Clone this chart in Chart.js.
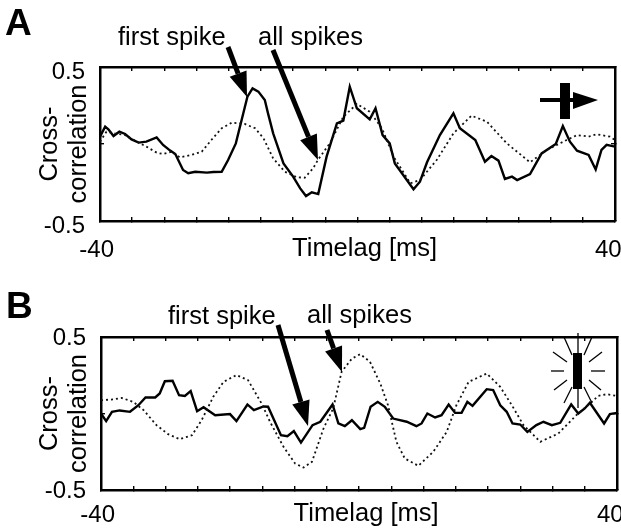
<!DOCTYPE html>
<html>
<head>
<meta charset="utf-8">
<script src="https://cdn.jsdelivr.net/npm/chart.js@4"></script>
<style>
    html, body { margin: 0; padding: 0; background: #fff; overflow: hidden; }
    canvas { position: absolute; left: 0; }
</style>
</head>
<body>
<canvas id="panelA" width="621" height="264" style="top:0"></canvas>
<canvas id="panelB" width="621" height="265" style="top:264px"></canvas>

<script>

// panel A, first spike (solid)
const lagFirstA = [-40, -39.2, -38.7, -37.9, -37, -36.1, -35.1, -34, -32.8, -31.2, -30.2, -29.1, -28.3, -27.1, -26.3, -25.2, -23.4, -22.4, -21.1, -20.1, -18.9, -18, -17.1, -16.3, -15.4, -14.4, -13.9, -13.1, -11.5, -10, -8.9, -8, -7.1, -6.1, -4.8, -3.2, -2.2, -1.2, -0.1, 1.9, 2.8, 3.9, 5, 5.8, 8.7, 9.7, 10.8, 12.8, 14.9, 15.9, 18.3, 19.8, 20.8, 21.9, 22.9, 24, 24.8, 26.8, 28.6, 30.8, 31.9, 33, 34.1, 35.9, 37, 37.9, 38.7, 40];
const firstA = [0.048, 0.113, 0.095, 0.052, 0.08, 0.065, 0.03, 0.009, 0.015, 0.043, -0.006, -0.043, -0.065, -0.169, -0.19, -0.18, -0.186, -0.182, -0.18, -0.104, 0.004, 0.156, 0.307, 0.361, 0.34, 0.286, 0.199, 0.069, -0.126, -0.212, -0.288, -0.338, -0.314, -0.325, -0.082, 0.134, 0.152, 0.372, 0.232, 0.16, 0.232, 0.058, 0.004, -0.126, -0.294, -0.245, -0.119, 0.058, 0.199, 0.102, 0.026, -0.115, -0.078, -0.108, -0.227, -0.212, -0.234, -0.195, -0.061, 0, 0.117, 0.015, -0.043, -0.071, -0.165, -0.039, -0.006, -0.017];

// panel A, all spikes (dotted)
const lagAllA = [-40, -39, -37.7, -36.1, -34.3, -32.8, -31.2, -30.2, -28.9, -27.6, -25.8, -24.2, -22.7, -21.1, -19.5, -17.5, -15.9, -14.6, -13.1, -11.3, -9.4, -8.2, -6.9, -6.1, -4.3, -2.2, -0.1, 1.9, 3.8, 5.6, 8.2, 9.7, 12.3, 14.9, 17.7, 20.1, 23.2, 26.8, 29.4, 32.5, 34.1, 35.9, 37.1, 39.2, 40];
const allA = [0.015, 0.08, 0.069, 0.058, 0.015, -0.017, -0.056, -0.065, -0.05, -0.087, -0.071, -0.05, 0.026, 0.102, 0.139, 0.13, 0.102, 0.037, -0.093, -0.18, -0.216, -0.219, -0.158, -0.1, 0.004, 0.177, 0.26, 0.21, 0.102, -0.082, -0.255, -0.234, -0.104, 0.069, 0.184, 0.145, 0.004, -0.119, -0.039, 0.026, 0.058, 0.048, 0.063, 0.048, 0.026];

// panel B, first spike (solid)
const lagFirstB = [-40, -39.2, -38.3, -37.1, -35.5, -34.2, -33.1, -31.6, -30.9, -30.1, -28.9, -27.9, -27, -26.1, -25.1, -24.1, -22.3, -20, -19, -17.3, -16.3, -14.8, -14.1, -12.1, -11.1, -10.1, -9, -7.2, -6, -4.1, -3.2, -2.2, -1.1, 0.2, 0.8, 1.8, 2.9, 4, 5.3, 7.4, 8.9, 9.7, 10.6, 11.8, 12.8, 13.9, 14.9, 15.9, 16.8, 17.6, 19.8, 20.8, 21.9, 22.9, 23.8, 25, 26.1, 27.5, 28.6, 29.9, 31.2, 32.9, 34, 35, 35.8, 38, 38.9, 40];
const firstB = [0, -0.05, 0.011, 0.02, 0.011, 0.054, 0.105, 0.105, 0.131, 0.211, 0.214, 0.12, 0.115, 0.146, 0.015, 0.041, -0.011, -0.004, -0.05, 0.059, 0.022, 0.046, 0.044, -0.142, -0.148, -0.115, -0.19, -0.076, -0.054, 0.059, -0.065, -0.083, -0.044, -0.102, -0.094, 0.044, 0.076, 0.044, -0.033, -0.054, -0.083, -0.065, 0, -0.026, -0.011, 0.059, 0.004, 0.004, 0.076, 0.05, 0.159, 0.153, 0.054, 0.011, -0.065, -0.072, -0.12, -0.076, -0.054, -0.076, -0.061, 0.059, 0, 0.033, 0.07, -0.065, -0.004, 0.004];

// panel B, all spikes (dotted)
const lagAllB = [-40, -38.1, -36.8, -35, -33.4, -31.4, -29.6, -27.8, -25.9, -24.4, -22.6, -21, -19, -17.2, -15.1, -13.8, -11.7, -9.9, -8.6, -7.3, -5.5, -4, -2.7, -1.1, 0.2, 1.7, 3.3, 4.5, 5.8, 7.1, 9.2, 11.5, 13.6, 15.1, 17, 19.8, 21.9, 23.7, 25.5, 28.1, 30.9, 33.7, 35.8, 37.1, 38.4, 40];
const allB = [0.087, 0.092, 0.102, 0.076, 0.022, -0.076, -0.135, -0.168, -0.142, -0.044, 0.109, 0.207, 0.251, 0.218, 0.065, -0.054, -0.218, -0.327, -0.353, -0.316, -0.098, 0.033, 0.272, 0.359, 0.388, 0.338, 0.196, 0.054, -0.185, -0.294, -0.342, -0.251, -0.12, 0.054, 0.207, 0.261, 0.174, 0.054, -0.076, -0.185, -0.131, -0.011, 0.065, 0.115, 0.126, 0.115];

const xTickLabels = { '-40': '-40 ', '40': '40  ' };
const yTickLabels = { '0.5': '0.5', '-0.5': '-0.5' };

// annotations, page pixels
const notesA = [
    { text: 'first spike', x: 118, y: 45 },
    { text: 'all spikes', x: 258, y: 45 },
];
const notesB = [
    { text: 'first spike', x: 168, y: 324 },
    { text: 'all spikes', x: 307, y: 323 },
];
const arrowsA = [[228, 47, 247, 97], [273, 50, 318, 160]];
const arrowsB = [[278, 325, 308, 426], [327, 330, 342, 372]];
const raysB = [
    [578, 333, 578, 353], [578, 389, 578, 408],
    [551, 371, 564, 371], [591, 371, 605, 371],
    [553, 352, 567, 362], [602, 352, 589, 362],
    [554, 390, 567, 380], [601, 390, 589, 380],
    [564, 337, 572, 355], [592, 337, 584, 355],
    [564, 403, 572, 387], [592, 403, 584, 387],
];

const points = (lags, values) => lags.map((x, i) => ({ x, y: values[i] }));

const drawArrow = (ctx, [x1, y1, x2, y2]) => {
    const angle = Math.atan2(y2 - y1, x2 - x1);
    const headLen = 25, headHalf = 9;
    const bx = x2 - headLen * Math.cos(angle), by = y2 - headLen * Math.sin(angle);
    ctx.lineWidth = 5;
    ctx.beginPath();
    ctx.moveTo(x1, y1);
    ctx.lineTo(bx, by);
    ctx.stroke();
    ctx.beginPath();
    ctx.moveTo(x2, y2);
    ctx.lineTo(bx - headHalf * Math.sin(angle), by + headHalf * Math.cos(angle));
    ctx.lineTo(bx + headHalf * Math.sin(angle), by - headHalf * Math.cos(angle));
    ctx.closePath();
    ctx.fill();
};

const createPanel = (canvasId, cfg) => {
    const canvas = document.getElementById(canvasId);
    const sharedX = {
        type: 'linear', min: -40, max: 40,
        border: { display: true, color: '#000', width: 2.5 },
        grid: { drawOnChartArea: false, color: '#000', lineWidth: 1.4, tickLength: -4 },
    };
    const sharedY = {
        type: 'linear', min: -0.5, max: 0.5,
        border: { display: true, color: '#000', width: 2.5 },
        grid: { drawOnChartArea: false, color: '#000', lineWidth: 1.4, tickLength: -4 },
    };
    const fixed = (prop, size) => (scale) => { scale[prop] = size; scale.paddingLeft = 0; scale.paddingRight = 0; scale.paddingTop = 0; scale.paddingBottom = 0; };

    // panel letter, arrows, stimulus icon
    const annotate = {
        id: 'annotate',
        afterDraw(chart) {
            const ctx = chart.ctx;
            ctx.save();
            ctx.translate(0, -cfg.top);
            ctx.fillStyle = '#000';
            ctx.strokeStyle = '#000';
            ctx.textBaseline = 'alphabetic';
            ctx.textAlign = 'left';
            ctx.font = 'bold 37px "Liberation Sans"';
            ctx.fillText(cfg.letter, cfg.letterX, cfg.letterY);
            ctx.font = '25.5px "Liberation Sans"';
            cfg.notes.forEach(n => ctx.fillText(n.text, n.x, n.y));
            cfg.arrows.forEach(a => drawArrow(ctx, a));
            cfg.icon(ctx);
            ctx.restore();
        }
    };

    return new Chart(canvas, {
        type: 'line',
        data: {
            datasets: [
                { label: 'all spikes', data: points(cfg.lagAll, cfg.all), borderColor: '#111', borderWidth: 1.8, borderDash: [2, 3], pointRadius: 0, tension: 0 },
                { label: 'first spike', data: points(cfg.lagFirst, cfg.first), borderColor: '#000', borderWidth: 2.4, pointRadius: 0, tension: 0 },
            ]
        },
        options: {
            responsive: false,
            animation: false,
            layout: { autoPadding: false },
            plugins: { legend: { display: false }, tooltip: { enabled: false } },
            scales: {
                x: {
                    ...sharedX,
                    position: 'bottom',
                    afterFit: fixed('height', cfg.bottomHeight),
                    afterBuildTicks: s => { s.ticks = xTicks(); },
                    ticks: {
                        autoSkip: false, maxRotation: 0, padding: cfg.xPad, color: '#000',
                        font: { family: 'Liberation Sans', size: 24 },
                        callback: v => xTickLabels[v] || '',
                    },
                    title: {
                        display: true, text: '  Timelag [ms]', color: '#000', padding: 0,
                        font: { family: 'Liberation Sans', size: 25.5, lineHeight: 1.16 },
                    },
                },
                xTop: {
                    ...sharedX,
                    position: 'top',
                    afterFit: fixed('height', cfg.topHeight),
                    afterBuildTicks: s => { s.ticks = xTicks(); },
                    ticks: { display: false },
                },
                y: {
                    ...sharedY,
                    position: 'left',
                    afterFit: fixed('width', cfg.leftWidth),
                    afterBuildTicks: s => { s.ticks = yTicks(); },
                    ticks: {
                        padding: cfg.yPad, color: '#000', labelOffset: cfg.yLabelOffset,
                        font: { family: 'Liberation Sans', size: 24 },
                        callback: v => yTickLabels[v] || '',
                    },
                    title: {
                        display: true, text: ['Cross-', 'correlation'], color: '#000',
                        padding: { top: 35, bottom: 0 },
                        font: { family: 'Liberation Sans', size: 25.5, lineHeight: 1.16 },
                    },
                },
                yRight: {
                    ...sharedY,
                    position: 'right',
                    afterFit: fixed('width', cfg.rightWidth),
                    afterBuildTicks: s => { s.ticks = yTicks(); },
                    ticks: { display: false },
                },
            }
        },
        plugins: [annotate]
    });
};

const xTickValues = [-40, -35, -30, -25, -20, -15, -10, -5, 0, 5, 10, 15, 20, 25, 30, 35, 40];
const yTickValues = [-0.5, 0, 0.5];
const xTicks = () => xTickValues.map(value => ({ value }));
const yTicks = () => yTickValues.map(value => ({ value }));

createPanel('panelA', {
    top: 0, letter: 'A', letterX: 5, letterY: 35,
    lagFirst: lagFirstA, first: firstA, lagAll: lagAllA, all: allA,
    notes: notesA, arrows: arrowsA,
    topHeight: 67, bottomHeight: 43, leftWidth: 100, rightWidth: 6,
    xPad: 19, yPad: 19, yLabelOffset: 5,
    icon: (ctx) => {
        ctx.fillRect(540, 98, 22, 4);
        ctx.fillRect(560, 83, 10, 36);
        ctx.beginPath();
        ctx.moveTo(573, 92);
        ctx.lineTo(598, 100);
        ctx.lineTo(573, 109);
        ctx.closePath();
        ctx.fill();
        ctx.fillRect(570, 98, 4, 4);
    },
});

createPanel('panelB', {
    top: 264, letter: 'B', letterX: 6, letterY: 318,
    lagFirst: lagFirstB, first: firstB, lagAll: lagAllB, all: allB,
    notes: notesB, arrows: arrowsB,
    topHeight: 73, bottomHeight: 39, leftWidth: 101, rightWidth: 4,
    xPad: 15, yPad: 19, yLabelOffset: 1,
    icon: (ctx) => {
        ctx.lineWidth = 1.3;
        raysB.forEach(([x1, y1, x2, y2]) => {
            ctx.beginPath();
            ctx.moveTo(x1, y1);
            ctx.lineTo(x2, y2);
            ctx.stroke();
        });
        ctx.fillRect(573, 353, 9, 36);
    },
});

</script>
</body>
</html>
